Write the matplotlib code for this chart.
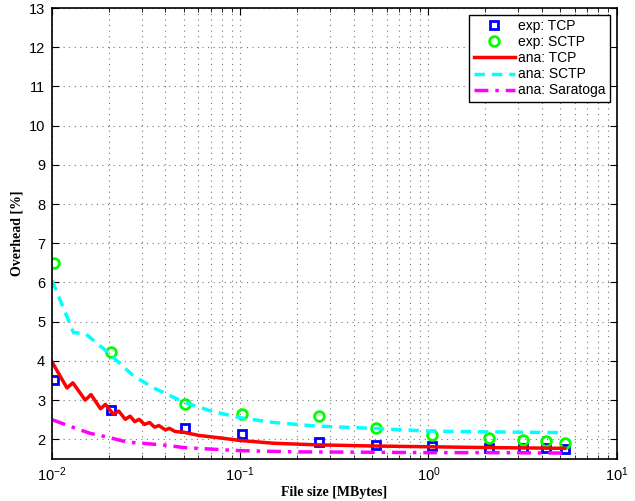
import matplotlib
matplotlib.use('Agg')
import matplotlib.pyplot as plt
from matplotlib.ticker import LogLocator, NullFormatter, MultipleLocator

plt.rcParams['font.family'] = ['Liberation Sans', 'DejaVu Sans']
plt.rcParams['mathtext.fontset'] = 'custom'
plt.rcParams['mathtext.rm'] = 'Liberation Sans'
plt.rcParams['mathtext.it'] = 'Liberation Sans'

# experimental points
exp_size = [0.0102, 0.0205, 0.051, 0.102, 0.263, 0.528, 1.05, 2.1, 3.2, 4.2, 5.3]
exp_tcp = [3.5, 2.75, 2.3, 2.13, 1.93, 1.86, 1.83, 1.79, 1.79, 1.77, 1.75]
exp_sctp = [6.5, 4.22, 2.9, 2.65, 2.59, 2.3, 2.11, 2.04, 1.98, 1.96, 1.9]

# analytical curves
ana_tcp_x = [0.01, 0.012, 0.0129, 0.015, 0.0161, 0.0181, 0.0192, 0.0212, 0.0226, 0.0245,
             0.026, 0.0275, 0.029, 0.031, 0.033, 0.035, 0.037, 0.04, 0.042, 0.045,
             0.05, 0.06, 0.08, 0.1, 0.15, 0.25, 0.5, 1.0, 2.0, 5.3]
ana_tcp_y = [3.97, 3.31, 3.44, 3.0, 3.14, 2.78, 2.89, 2.64, 2.72, 2.51,
             2.59, 2.45, 2.51, 2.38, 2.43, 2.31, 2.35, 2.24, 2.28, 2.2,
             2.18, 2.1, 2.03, 1.97, 1.9, 1.86, 1.83, 1.81, 1.79, 1.77]

ana_sctp_x = [0.01, 0.013, 0.015, 0.02, 0.027, 0.035, 0.05, 0.07, 0.1, 0.15,
              0.25, 0.5, 1.0, 2.0, 5.3]
ana_sctp_y = [6.05, 4.72, 4.7, 4.2, 3.62, 3.3, 2.95, 2.72, 2.55, 2.43,
              2.34, 2.28, 2.21, 2.19, 2.17]

ana_sara_x = [0.01, 0.013, 0.016, 0.02, 0.025, 0.03, 0.04, 0.05, 0.07, 0.1,
              0.2, 0.5, 1.0, 2.0, 5.3]
ana_sara_y = [2.5, 2.3, 2.15, 2.05, 1.93, 1.9, 1.85, 1.79, 1.75, 1.71,
              1.68, 1.67, 1.66, 1.66, 1.65]

fig = plt.figure(figsize=(6.35, 5.01), dpi=100)
ax = fig.add_axes([0.082, 0.084, 0.889, 0.9])

ax.plot(exp_size, exp_tcp, 's', color='blue', mfc='none', mew=2, ms=6, label='exp: TCP')
ax.plot(exp_size, exp_sctp, 'o', color='#00ff00', mfc='none', mew=2, ms=7, label='exp: SCTP')
ax.plot(ana_tcp_x, ana_tcp_y, '-', color='red', lw=2.5, label='ana: TCP')
ax.plot(ana_sctp_x, ana_sctp_y, color='cyan', lw=2.5, ls=(0, (3, 2)), label='ana: SCTP')
ax.plot(ana_sara_x, ana_sara_y, color='magenta', lw=2.5, ls=(0, (4, 2, 1, 2)), label='ana: Saratoga')

ax.set_xscale('log')
ax.set_xlim(0.01, 10)
ax.set_ylim(1.5, 13)
ax.yaxis.set_major_locator(MultipleLocator(1))
ax.xaxis.set_minor_locator(LogLocator(base=10, subs=range(2, 10)))
ax.xaxis.set_minor_formatter(NullFormatter())

ax.grid(True, which='major', linestyle=(0, (1, 4)), color='#777777', lw=0.8)
ax.grid(True, which='minor', axis='x', linestyle=(0, (1, 4)), color='#777777', lw=0.8)
ax.tick_params(which='both', direction='in', top=True, right=True, labelsize=10.5)
ax.tick_params(which='major', length=5, pad=5)
ax.tick_params(which='minor', length=3)
for s in ax.spines.values():
    s.set_linewidth(1.2)

ax.set_xlabel('File size [MBytes]', family='Liberation Serif', fontweight='bold',
              fontsize=10, labelpad=1)
ax.set_ylabel('Overhead [%]', family='Liberation Serif', fontweight='bold', fontsize=10)

leg = ax.legend(loc='upper right', fontsize=10, fancybox=False, edgecolor='black',
                framealpha=1, handlelength=3, handletextpad=0.2, borderaxespad=0.5,
                labelspacing=0.15, borderpad=0.3)
leg.get_frame().set_linewidth(1)

plt.savefig('out.png', dpi=100)
